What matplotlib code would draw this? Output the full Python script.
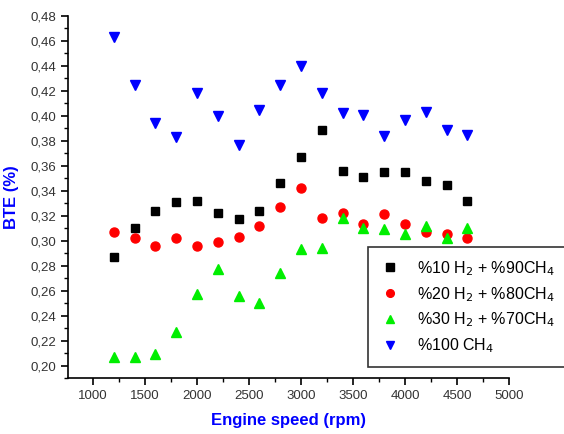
import matplotlib.pyplot as plt
from matplotlib.ticker import MultipleLocator

plt.rcParams['font.family'] = ['Liberation Sans', 'DejaVu Sans']

speed = [1200, 1400, 1600, 1800, 2000, 2200, 2400, 2600, 2800,
         3000, 3200, 3400, 3600, 3800, 4000, 4200, 4400, 4600]

bte_h10 = [0.287, 0.310, 0.324, 0.331, 0.332, 0.322, 0.317, 0.324, 0.346,
           0.367, 0.389, 0.356, 0.351, 0.355, 0.355, 0.348, 0.345, 0.332]
bte_h20 = [0.307, 0.302, 0.296, 0.302, 0.296, 0.299, 0.303, 0.312, 0.327,
           0.342, 0.318, 0.322, 0.313, 0.321, 0.313, 0.307, 0.305, 0.302]
bte_h30 = [0.207, 0.207, 0.209, 0.227, 0.257, 0.277, 0.256, 0.250, 0.274,
           0.293, 0.294, 0.318, 0.310, 0.309, 0.305, 0.312, 0.302, 0.310]
bte_ch4 = [0.463, 0.425, 0.394, 0.383, 0.418, 0.400, 0.377, 0.405, 0.425,
           0.440, 0.418, 0.402, 0.401, 0.384, 0.397, 0.403, 0.389, 0.385]

fig = plt.figure(figsize=(5.64, 4.34), dpi=100)
ax = fig.add_axes([68 / 564, 56 / 434, 441 / 564, 362 / 434])

ax.plot(speed, bte_h10, 's', color='black', markersize=6, label=r'%10 H$_2$ + %90CH$_4$')
ax.plot(speed, bte_h20, 'o', color='red', markersize=6.5, label=r'%20 H$_2$ + %80CH$_4$')
ax.plot(speed, bte_h30, '^', color='#00ee00', markersize=7, label=r'%30 H$_2$ + %70CH$_4$')
ax.plot(speed, bte_ch4, 'v', color='blue', markersize=7, label=r'%100 CH$_4$')

ax.set_xlim(760, 5000)
ax.set_ylim(0.19, 0.48)
ax.xaxis.set_major_locator(MultipleLocator(500))
ax.xaxis.set_minor_locator(MultipleLocator(250))
ax.yaxis.set_major_locator(MultipleLocator(0.02))
ax.yaxis.set_minor_locator(MultipleLocator(0.01))
ax.yaxis.set_major_formatter(plt.FuncFormatter(lambda v, p: f'{v:.2f}'.replace('.', ',')))

for s in ['top', 'right']:
    ax.spines[s].set_visible(False)
ax.spines['left'].set_linewidth(1.2)
ax.spines['bottom'].set_linewidth(1.2)
ax.tick_params(which='major', direction='out', length=5, width=1.2, labelsize=9.5, labelcolor='#333333')
ax.tick_params(which='minor', direction='out', length=3, width=1.0)

ax.set_xlabel('Engine speed (rpm)', color='blue', fontweight='bold', fontsize=12, labelpad=8)
ax.set_ylabel('BTE (%)', color='blue', fontweight='bold', fontsize=12, labelpad=8)

leg = ax.legend(loc='upper left', bbox_to_anchor=(368 / 564, 187 / 434), bbox_transform=fig.transFigure,
                borderaxespad=0, fontsize=11.5, frameon=True, fancybox=False, edgecolor='black',
                markerscale=0.85, handletextpad=1.1, borderpad=0.75, labelspacing=0.45, handlelength=1.2)
leg.get_frame().set_linewidth(1.2)

fig.savefig('out.png', dpi=100)
